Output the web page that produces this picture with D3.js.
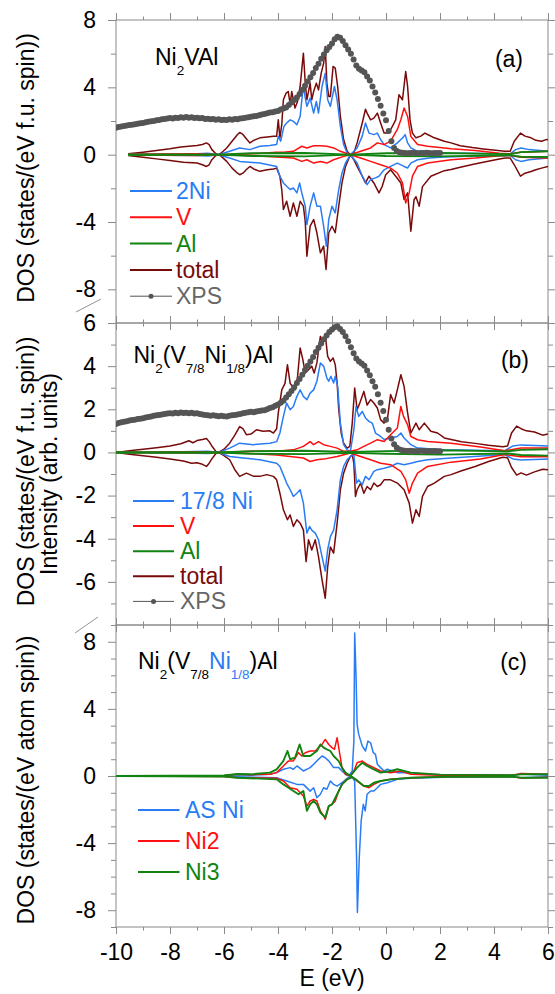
<!DOCTYPE html>
<html><head><meta charset="utf-8">
<script src="https://cdn.jsdelivr.net/npm/d3@7"></script>
<style>body{margin:0;background:#fff} svg{display:block} text{font-family:"Liberation Sans",Arial,sans-serif}</style>
</head><body><svg id="c" width="555" height="994"></svg>
<script>
// ---------------- DATA ----------------
const energyTicks = [-10,-8,-6,-4,-2,0,2,4,6];
const energyMinor = [-9,-7,-5,-3,-1,1,3,5];
// Panel (a) Ni2VAl
const totA_up = [[-9.55,0.05],[-9,0.15],[-8.5,0.25],[-8,0.35],[-7.6,0.45],[-7.3,0.5],[-7.0,0.55],[-6.8,0.6],[-6.65,0.7],[-6.55,0.6],[-6.45,0.3],[-6.3,0.05],[-6.2,0.0],[-6.1,0.1],[-5.9,0.4],[-5.7,0.8],[-5.5,1.2],[-5.42,1.32],[-5.3,1.2],[-5.15,0.9],[-5.04,0.7],[-4.9,0.85],[-4.67,1.0],[-4.4,1.05],[-4.17,1.1],[-4.05,1.1],[-3.99,2.07],[-3.93,1.0],[-3.86,1.8],[-3.8,3.26],[-3.7,3.66],[-3.62,3.75],[-3.55,3.0],[-3.49,3.75],[-3.37,2.77],[-3.28,3.15],[-3.18,4.05],[-3.06,6.03],[-2.99,4.25],[-2.93,3.26],[-2.81,4.25],[-2.75,3.26],[-2.68,3.75],[-2.58,4.25],[-2.5,3.85],[-2.4,4.84],[-2.31,5.43],[-2.25,6.42],[-2.19,4.25],[-2.12,3.46],[-2.06,3.46],[-1.96,5.24],[-1.88,5.14],[-1.79,4.05],[-1.69,2.27],[-1.57,0.9],[-1.44,0.2],[-1.32,0.0],[-1.19,0.1],[-1.07,0.7],[-0.88,1.88],[-0.76,2.7],[-0.7,2.47],[-0.57,2.07],[-0.45,2.17],[-0.32,2.47],[-0.2,1.88],[-0.07,1.28],[0.05,1.28],[0.17,1.48],[0.36,2.07],[0.48,3.56],[0.61,3.26],[0.73,4.94],[0.8,4.05],[0.89,2.07],[0.98,1.28],[1.11,1.0],[1.29,1.1],[1.44,1.28],[1.54,1.2],[1.79,1.0],[2.16,0.8],[2.41,0.7],[2.75,0.53],[3.2,0.42],[3.6,0.34],[4.06,0.26],[4.4,0.2],[4.6,0.2],[4.75,0.8],[4.98,1.28],[5.15,1.1],[5.37,1.0],[5.55,0.85],[5.76,0.8],[5.9,0.88],[6,0.9]];
const totA_dn = [[-9.55,-0.05],[-9,-0.15],[-8.5,-0.25],[-8,-0.35],[-7.5,-0.45],[-7.0,-0.5],[-6.8,-0.6],[-6.65,-0.7],[-6.55,-0.6],[-6.45,-0.3],[-6.3,-0.05],[-6.2,0],[-6.1,-0.1],[-5.9,-0.4],[-5.7,-0.8],[-5.5,-1.1],[-5.42,-1.19],[-5.3,-1.1],[-5.15,-0.85],[-5.04,-0.7],[-4.9,-0.85],[-4.67,-0.99],[-4.4,-0.9],[-4.17,-0.85],[-4.05,-0.8],[-3.93,-1.28],[-3.86,-2.1],[-3.8,-3.26],[-3.68,-2.77],[-3.55,-3.66],[-3.43,-2.87],[-3.3,-3.66],[-3.18,-2.77],[-3.06,-3.06],[-2.99,-4.0],[-2.93,-6.03],[-2.81,-4.25],[-2.68,-3.85],[-2.56,-4.64],[-2.43,-5.83],[-2.31,-5.43],[-2.22,-6.82],[-2.12,-4.64],[-2.0,-4.25],[-1.88,-4.64],[-1.75,-3.06],[-1.63,-1.68],[-1.5,-0.7],[-1.32,0],[-1.19,-0.3],[-1.07,-0.7],[-0.88,-1.28],[-0.76,-1.68],[-0.63,-1.28],[-0.45,-1.68],[-0.26,-2.27],[-0.14,-1.88],[-0.01,-1.19],[0.17,-0.9],[0.36,-1.28],[0.55,-1.68],[0.67,-2.67],[0.8,-2.27],[0.92,-4.55],[1.04,-2.67],[1.11,-2.5],[1.23,-3.06],[1.35,-1.9],[1.66,-1.28],[2.16,-0.95],[2.41,-0.88],[2.75,-0.75],[3.2,-0.58],[3.6,-0.45],[4.06,-0.3],[4.4,-0.2],[4.6,-0.2],[4.75,-0.6],[4.98,-1.28],[5.15,-1.1],[5.37,-1.0],[5.55,-0.9],[5.76,-0.8],[6,-0.7]];
const niA_up = [[-9.55,0.02],[-8,0.03],[-7,0.05],[-6.6,0.08],[-6.2,0],[-5.79,0.2],[-5.42,0.4],[-5.04,0.3],[-4.67,0.5],[-4.3,0.55],[-4.05,0.6],[-3.99,1.1],[-3.9,0.8],[-3.78,1.68],[-3.68,1.88],[-3.55,2.07],[-3.43,1.98],[-3.3,1.78],[-3.18,2.27],[-3.06,4.15],[-2.99,3.36],[-2.93,2.87],[-2.81,3.36],[-2.68,2.47],[-2.58,3.16],[-2.5,2.47],[-2.37,4.05],[-2.25,4.84],[-2.16,3.26],[-2.06,2.87],[-1.91,4.05],[-1.81,3.26],[-1.69,1.68],[-1.57,0.6],[-1.44,0.1],[-1.32,0],[-1.07,0.4],[-0.88,1.1],[-0.76,1.88],[-0.63,1.28],[-0.45,1.19],[-0.32,1.28],[-0.2,0.9],[-0.07,0.6],[0.17,0.4],[0.42,0.7],[0.61,0.99],[0.71,1.19],[0.8,0.7],[0.92,0.4],[1.17,0.2],[1.6,0.15],[2.16,0.1],[3,0.08],[4,0.05],[4.6,0.05],[4.8,0.3],[5.0,0.4],[5.3,0.3],[6,0.2]];
const niA_dn = [[-9.55,-0.02],[-7,-0.05],[-6.6,-0.08],[-6.2,0],[-5.79,-0.2],[-5.42,-0.4],[-4.67,-0.5],[-4.05,-0.7],[-3.93,-1.28],[-3.8,-1.68],[-3.68,-1.88],[-3.55,-2.07],[-3.43,-1.98],[-3.3,-2.27],[-3.2,-1.68],[-3.12,-2.27],[-2.99,-3.06],[-2.93,-4.15],[-2.81,-3.06],[-2.68,-2.27],[-2.56,-3.06],[-2.43,-3.06],[-2.31,-4.25],[-2.21,-5.43],[-2.12,-3.85],[-2.0,-3.06],[-1.88,-3.46],[-1.75,-2.07],[-1.63,-1.09],[-1.5,-0.5],[-1.32,0],[-1.07,-0.5],[-0.88,-1.28],[-0.7,-1.78],[-0.57,-1.48],[-0.39,-1.38],[-0.26,-1.28],[-0.07,-0.9],[0.17,-0.7],[0.42,-0.5],[0.67,-0.7],[0.8,-0.79],[0.92,-0.5],[1.17,-0.3],[1.6,-0.2],[2.16,-0.14],[3,-0.1],[4,-0.06],[4.6,-0.05],[4.8,-0.3],[5.0,-0.4],[5.3,-0.3],[6,-0.2]];
const vA_up = [[-9.55,0.02],[-7,0.05],[-6.2,0],[-5,0.05],[-4.05,0.14],[-3.8,0.14],[-3.43,0.2],[-3.12,0.5],[-2.93,0.4],[-2.68,0.53],[-2.43,0.53],[-2.19,0.5],[-1.94,0.4],[-1.69,0.2],[-1.32,0],[-0.94,0.2],[-0.57,0.4],[-0.32,0.7],[-0.07,0.6],[0.17,0.8],[0.42,1.5],[0.55,2.07],[0.67,2.77],[0.8,2.27],[0.92,1.08],[1.17,0.6],[1.54,0.5],[2.16,0.4],[2.41,0.35],[3.3,0.25],[4.2,0.08],[4.6,0.05],[5.0,0.15],[6,0.2]];
const vA_dn = [[-9.55,-0.02],[-7,-0.05],[-6.2,0],[-5,-0.05],[-4.05,-0.14],[-3.43,-0.2],[-3.12,-0.4],[-2.93,-0.3],[-2.68,-0.5],[-2.43,-0.4],[-2.19,-0.5],[-1.94,-0.3],[-1.57,-0.1],[-1.32,0],[-0.94,-0.2],[-0.57,-0.4],[-0.2,-0.6],[0.17,-0.8],[0.42,-1.09],[0.61,-1.68],[0.73,-2.87],[0.86,-2.27],[0.98,-1.28],[1.17,-0.7],[1.54,-0.5],[2.41,-0.3],[3.3,-0.2],[4.2,-0.06],[4.6,-0.05],[5.0,-0.15],[6,-0.2]];
const alA_up = [[-9.55,0.02],[-6.2,0],[-5,0.08],[-3,0.1],[-1.32,0],[0,0.08],[2,0.1],[4.6,0.03],[5,0.15],[6,0.2]];
const alA_dn = [[-9.55,-0.02],[-6.2,0],[-5,-0.08],[-3,-0.1],[-1.32,0],[0,-0.08],[2,-0.1],[4.6,-0.03],[5,-0.12],[6,-0.14]];
const xpsA = [[-10,1.6],[-9.9,1.65],[-9.8,1.68],[-9.7,1.7],[-9.6,1.74],[-9.5,1.76],[-9.4,1.78],[-9.3,1.8],[-9.2,1.84],[-9.1,1.86],[-9,1.88],[-8.9,1.92],[-8.8,1.95],[-8.7,1.98],[-8.6,2.0],[-8.5,2.05],[-8.4,2.06],[-8.3,2.1],[-8.2,2.12],[-8.1,2.15],[-8,2.18],[-7.9,2.15],[-7.8,2.2],[-7.7,2.18],[-7.6,2.22],[-7.5,2.2],[-7.4,2.24],[-7.3,2.2],[-7.2,2.22],[-7.1,2.18],[-7,2.2],[-6.9,2.16],[-6.8,2.18],[-6.7,2.12],[-6.6,2.14],[-6.5,2.1],[-6.4,2.12],[-6.3,2.08],[-6.2,2.1],[-6.1,2.06],[-6,2.08],[-5.9,2.06],[-5.8,2.1],[-5.7,2.08],[-5.6,2.12],[-5.5,2.1],[-5.4,2.15],[-5.3,2.17],[-5.2,2.2],[-5.1,2.22],[-5,2.25],[-4.9,2.28],[-4.8,2.3],[-4.7,2.34],[-4.6,2.38],[-4.5,2.42],[-4.4,2.46],[-4.3,2.5],[-4.2,2.52],[-4.1,2.56],[-4,2.6],[-3.9,2.68],[-3.8,2.74],[-3.7,2.8],[-3.6,2.95],[-3.5,3.1],[-3.4,3.25],[-3.3,3.4],[-3.2,3.6],[-3.1,3.85],[-3,4.1],[-2.9,4.35],[-2.8,4.6],[-2.7,4.85],[-2.6,5.15],[-2.5,5.4],[-2.4,5.7],[-2.3,5.95],[-2.2,6.2],[-2.1,6.4],[-2,6.6],[-1.9,6.85],[-1.8,7.0],[-1.7,6.95],[-1.6,6.75],[-1.5,6.5],[-1.4,6.25],[-1.3,6.0],[-1.2,5.65],[-1.1,5.3],[-1,5.1],[-0.9,5.0],[-0.8,4.9],[-0.7,4.65],[-0.6,4.4],[-0.5,4.05],[-0.4,3.7],[-0.3,3.3],[-0.2,2.9],[-0.1,2.45],[0,2.05],[0.1,1.4],[0.2,0.8],[0.3,0.4],[0.4,0.22],[0.5,0.14],[0.6,0.12],[0.7,0.1],[0.8,0.09],[0.9,0.1],[1,0.11],[1.1,0.1],[1.2,0.09],[1.3,0.1],[1.4,0.1],[1.5,0.11],[1.6,0.1],[1.7,0.09],[1.8,0.1],[1.9,0.1],[2,0.1]];
// Panel (b) Ni2(V7/8Ni1/8)Al
const totB_up = [[-10,0],[-9.5,0.08],[-9,0.15],[-8.5,0.22],[-8,0.3],[-7.6,0.4],[-7.3,0.54],[-7.15,0.45],[-7.0,0.55],[-6.8,0.6],[-6.65,0.65],[-6.55,0.5],[-6.45,0.3],[-6.3,0.05],[-6.2,0],[-6.0,0.15],[-5.79,0.43],[-5.6,0.8],[-5.42,1.2],[-5.3,1.1],[-5.17,0.82],[-5.0,0.85],[-4.8,1.05],[-4.55,0.98],[-4.3,1.0],[-4.17,0.9],[-4.05,1.1],[-3.99,1.83],[-3.86,2.9],[-3.74,3.2],[-3.65,4.07],[-3.55,3.2],[-3.43,3.0],[-3.37,2.9],[-3.28,3.45],[-3.18,4.84],[-3.08,4.3],[-2.99,3.68],[-2.87,3.83],[-2.75,4.0],[-2.66,3.68],[-2.56,4.15],[-2.43,5.38],[-2.34,5.07],[-2.25,5.46],[-2.16,4.45],[-2.06,4.22],[-1.96,4.38],[-1.88,4.07],[-1.81,3.22],[-1.75,1.98],[-1.66,0.9],[-1.57,0.43],[-1.44,0.2],[-1.34,0.28],[-1.25,1.36],[-1.16,2.99],[-1.07,1.98],[-0.97,2.29],[-0.82,2.83],[-0.7,2.2],[-0.57,2.45],[-0.45,2.29],[-0.32,2.06],[-0.2,1.52],[-0.07,1.36],[0.05,1.52],[0.17,2.68],[0.3,2.29],[0.42,2.9],[0.55,3.6],[0.67,3.06],[0.8,1.83],[0.92,0.9],[1.11,1.36],[1.23,1.05],[1.42,1.36],[1.66,0.98],[1.91,0.9],[2.16,0.67],[2.41,0.6],[2.8,0.5],[3.3,0.42],[3.8,0.33],[4.32,0.26],[4.5,0.3],[4.65,0.9],[4.84,1.22],[5.0,1.1],[5.2,1.0],[5.5,0.95],[5.8,0.8],[6,0.85]];
const totB_dn = [[-10,0],[-9.5,-0.08],[-9,-0.15],[-8.5,-0.22],[-8,-0.3],[-7.5,-0.4],[-7.2,-0.5],[-7.0,-0.48],[-6.8,-0.55],[-6.65,-0.65],[-6.55,-0.5],[-6.45,-0.3],[-6.3,-0.05],[-6.2,0],[-6.0,-0.15],[-5.79,-0.34],[-5.6,-0.8],[-5.42,-1.11],[-5.17,-0.96],[-4.92,-1.1],[-4.67,-1.11],[-4.42,-1.03],[-4.17,-1.11],[-4.05,-1.27],[-3.93,-1.89],[-3.8,-2.66],[-3.65,-3.12],[-3.55,-2.9],[-3.43,-3.43],[-3.3,-3.12],[-3.18,-3.28],[-3.06,-3.59],[-2.96,-5.06],[-2.87,-4.05],[-2.75,-4.52],[-2.62,-4.05],[-2.5,-4.83],[-2.37,-5.9],[-2.25,-6.76],[-2.16,-5.3],[-2.06,-4.38],[-1.94,-4.67],[-1.81,-3.28],[-1.69,-1.73],[-1.57,-0.96],[-1.44,-0.5],[-1.32,-0.19],[-1.25,-0.11],[-1.19,-0.5],[-1.13,-2.04],[-1.07,-1.73],[-0.94,-1.42],[-0.82,-1.89],[-0.7,-1.58],[-0.57,-1.73],[-0.45,-1.42],[-0.32,-1.58],[-0.2,-1.5],[-0.07,-1.27],[0.17,-1.27],[0.42,-1.42],[0.67,-1.73],[0.86,-2.35],[0.98,-3.28],[1.11,-2.66],[1.23,-2.97],[1.35,-2.04],[1.54,-1.58],[1.79,-1.42],[2.16,-1.11],[2.41,-1.03],[2.8,-0.85],[3.3,-0.65],[3.8,-0.42],[4.32,-0.22],[4.5,-0.25],[4.65,-0.7],[4.84,-1.05],[5.0,-0.95],[5.2,-1.05],[5.5,-0.9],[5.8,-0.78],[6,-0.8]];
const niB_up = [[-10,0],[-8,0.02],[-6.6,0.05],[-6.2,0],[-5.79,0.2],[-5.42,0.43],[-4.92,0.36],[-4.3,0.43],[-4.05,0.5],[-3.93,0.9],[-3.8,1.67],[-3.68,2.29],[-3.55,1.98],[-3.43,2.13],[-3.3,2.6],[-3.18,2.9],[-3.06,2.6],[-2.93,2.44],[-2.81,2.75],[-2.68,2.9],[-2.56,3.3],[-2.43,4.15],[-2.31,4.0],[-2.19,3.45],[-2.12,3.3],[-2.04,3.53],[-1.94,3.22],[-1.88,3.53],[-1.79,3.06],[-1.69,1.36],[-1.57,0.36],[-1.44,0.12],[-1.32,0.05],[-1.19,1.05],[-1.11,2.13],[-1.01,1.67],[-0.88,1.9],[-0.76,1.6],[-0.63,1.44],[-0.51,1.36],[-0.39,0.9],[-0.2,0.74],[-0.07,0.6],[0.17,0.67],[0.42,0.74],[0.55,0.9],[0.67,0.67],[0.92,0.36],[1.17,0.2],[2.16,0.12],[4.4,0.08],[4.7,0.3],[5.0,0.35],[6,0.3]];
const niB_dn = [[-10,0],[-8,-0.02],[-6.6,-0.05],[-6.2,0],[-5.79,-0.19],[-5.29,-0.26],[-4.67,-0.34],[-4.05,-0.5],[-3.93,-0.65],[-3.8,-1.04],[-3.68,-1.42],[-3.55,-1.73],[-3.43,-2.04],[-3.3,-1.89],[-3.18,-1.73],[-3.06,-2.35],[-2.93,-3.74],[-2.83,-3.43],[-2.75,-3.6],[-2.62,-3.74],[-2.5,-4.05],[-2.37,-4.83],[-2.25,-5.5],[-2.16,-4.5],[-2.06,-3.9],[-1.94,-3.6],[-1.81,-2.66],[-1.69,-1.27],[-1.57,-0.65],[-1.44,-0.34],[-1.32,-0.19],[-1.19,-0.11],[-1.09,-1.42],[-1.01,-1.27],[-0.88,-1.5],[-0.76,-1.11],[-0.63,-1.27],[-0.45,-0.88],[-0.32,-0.8],[-0.07,-0.73],[0.17,-0.65],[0.42,-0.5],[0.67,-0.57],[0.92,-0.5],[1.17,-0.42],[1.54,-0.34],[2.41,-0.26],[4.4,-0.1],[4.7,-0.3],[5.0,-0.35],[6,-0.3]];
const vB_up = [[-10,0],[-7,0.03],[-6.2,0],[-5,0.05],[-4.05,0.05],[-3.43,0.12],[-3.06,0.28],[-2.81,0.5],[-2.68,0.36],[-2.5,0.5],[-2.31,0.36],[-2.06,0.28],[-1.81,0.2],[-1.57,0.05],[-1.32,0.05],[-1.07,0.12],[-0.82,0.28],[-0.57,0.43],[-0.32,0.59],[-0.07,0.51],[0.17,0.82],[0.42,1.13],[0.55,2.13],[0.65,1.67],[0.8,1.28],[0.92,0.74],[1.17,0.59],[1.54,0.51],[2.41,0.43],[3.5,0.25],[4.4,0.08],[5.0,0.2],[6,0.2]];
const vB_dn = [[-10,0],[-7,-0.03],[-6.2,0],[-5,-0.05],[-4.05,-0.12],[-3.06,-0.26],[-2.81,-0.42],[-2.56,-0.34],[-2.31,-0.31],[-1.81,-0.19],[-1.32,-0.03],[-0.94,-0.19],[-0.57,-0.34],[-0.2,-0.5],[0.17,-0.57],[0.55,-0.88],[0.73,-1.27],[0.86,-1.89],[0.98,-1.42],[1.17,-0.96],[1.54,-0.65],[2.41,-0.45],[3.5,-0.3],[4.4,-0.1],[5.0,-0.2],[6,-0.2]];
const alB_up = [[-10,0],[-6.2,0],[-5,0.06],[-3,0.08],[-1.3,0.02],[0,0.06],[2,0.1],[4.5,0.05],[5,0.12],[6,0.15]];
const alB_dn = [[-10,0],[-6.2,0],[-5,-0.06],[-3,-0.08],[-1.3,-0.02],[0,-0.06],[2,-0.1],[4.5,-0.05],[5,-0.12],[6,-0.15]];
const xpsB = [[-10,1.32],[-9.9,1.36],[-9.8,1.4],[-9.7,1.42],[-9.6,1.45],[-9.5,1.48],[-9.4,1.5],[-9.3,1.52],[-9.2,1.55],[-9.1,1.56],[-9,1.58],[-8.9,1.62],[-8.8,1.64],[-8.7,1.66],[-8.6,1.7],[-8.5,1.72],[-8.4,1.74],[-8.3,1.76],[-8.2,1.78],[-8.1,1.8],[-8,1.82],[-7.9,1.8],[-7.8,1.84],[-7.7,1.82],[-7.6,1.85],[-7.5,1.83],[-7.4,1.84],[-7.3,1.82],[-7.2,1.84],[-7.1,1.8],[-7,1.82],[-6.9,1.78],[-6.8,1.76],[-6.7,1.74],[-6.6,1.72],[-6.5,1.7],[-6.4,1.72],[-6.3,1.7],[-6.2,1.68],[-6.1,1.7],[-6,1.68],[-5.9,1.67],[-5.8,1.7],[-5.7,1.72],[-5.6,1.74],[-5.5,1.76],[-5.4,1.78],[-5.3,1.82],[-5.2,1.84],[-5.1,1.86],[-5,1.88],[-4.9,1.86],[-4.8,1.9],[-4.7,1.92],[-4.6,1.94],[-4.5,1.96],[-4.4,2.0],[-4.3,2.06],[-4.2,2.1],[-4.1,2.16],[-4,2.22],[-3.9,2.3],[-3.8,2.4],[-3.7,2.55],[-3.6,2.7],[-3.5,2.85],[-3.4,3.02],[-3.3,3.22],[-3.2,3.4],[-3.1,3.6],[-3,3.82],[-2.9,4.02],[-2.8,4.22],[-2.7,4.42],[-2.6,4.65],[-2.5,4.85],[-2.4,5.05],[-2.3,5.25],[-2.2,5.42],[-2.1,5.58],[-2,5.7],[-1.9,5.8],[-1.8,5.85],[-1.7,5.72],[-1.6,5.58],[-1.5,5.38],[-1.4,5.15],[-1.3,4.88],[-1.2,4.6],[-1.1,4.35],[-1,4.22],[-0.9,4.12],[-0.8,4.02],[-0.7,3.8],[-0.6,3.58],[-0.5,3.3],[-0.4,3.05],[-0.3,2.7],[-0.2,2.3],[-0.1,1.92],[0,1.52],[0.1,1.05],[0.2,0.65],[0.3,0.38],[0.4,0.22],[0.5,0.14],[0.6,0.1],[0.7,0.08],[0.8,0.07],[0.9,0.08],[1,0.07],[1.1,0.06],[1.2,0.07],[1.3,0.08],[1.4,0.07],[1.5,0.06],[1.6,0.07],[1.7,0.06],[1.8,0.07],[1.9,0.06],[2,0.06]];
// Panel (c) site-resolved Ni
const asNi_up = [[-10,0],[-7,0.01],[-6,0.02],[-5.5,0.08],[-5,0.05],[-4.3,0.1],[-4.05,0.2],[-3.8,0.4],[-3.55,0.5],[-3.43,0.4],[-3.3,0.6],[-3.06,0.3],[-2.81,0.5],[-2.68,0.7],[-2.56,0.9],[-2.37,1.19],[-2.25,1.09],[-2.12,0.9],[-1.94,0.5],[-1.75,0.5],[-1.63,0.3],[-1.5,0.1],[-1.38,0],[-1.25,0.3],[-1.19,2.08],[-1.16,8.53],[-1.11,6.0],[-1.07,3.08],[-1.01,2.48],[-0.88,1.79],[-0.76,1.49],[-0.67,2.08],[-0.57,1.98],[-0.47,1.39],[-0.39,1.29],[-0.32,0.7],[-0.2,0.5],[-0.07,0.3],[0.05,0.4],[0.24,0.3],[0.42,0.2],[0.92,0.2],[1.42,0.1],[2.41,0.06],[4.7,0.05],[5.0,0.12],[6,0.05]];
const asNi_dn = [[-10,0],[-6,-0.02],[-5.5,-0.05],[-4.05,-0.1],[-3.68,-0.3],[-3.3,-0.5],[-3.06,-0.5],[-2.81,-0.9],[-2.68,-0.7],[-2.56,-1.29],[-2.43,-1.09],[-2.31,-0.7],[-2.19,-0.79],[-2.06,-0.3],[-1.94,-0.5],[-1.81,-0.6],[-1.63,-0.4],[-1.44,-0.14],[-1.25,-0.06],[-1.16,-0.3],[-1.09,-4.86],[-1.06,-8.13],[-0.99,-4.86],[-0.92,-2.68],[-0.84,-1.69],[-0.77,-2.08],[-0.7,-1.09],[-0.57,-0.89],[-0.45,-0.89],[-0.32,-0.7],[-0.2,-0.5],[0.05,-0.4],[0.42,-0.2],[0.92,-0.14],[2.41,-0.06],[4.7,-0.05],[5.0,-0.1],[6,-0.05]];
const ni2_up = [[-10,0],[-7,0.01],[-6,0.03],[-5.5,0.1],[-5,0.08],[-4.3,0.1],[-4.05,0.2],[-3.8,0.6],[-3.61,0.9],[-3.43,0.9],[-3.24,1.39],[-3.12,1.19],[-2.99,1.39],[-2.81,1.49],[-2.62,1.49],[-2.5,1.69],[-2.37,1.88],[-2.25,2.18],[-2.12,1.88],[-2.0,1.69],[-1.91,1.59],[-1.81,2.28],[-1.71,1.29],[-1.63,0.5],[-1.5,0.1],[-1.32,0],[-1.19,0.3],[-1.07,0.79],[-0.88,0.89],[-0.7,0.69],[-0.45,0.5],[-0.2,0.3],[0.17,0.2],[0.55,0.3],[0.92,0.1],[2,0.05],[4.7,0.05],[5.0,0.15],[6,0.1]];
const ni2_dn = [[-10,0],[-6,-0.03],[-5.5,-0.1],[-4.05,-0.14],[-3.8,-0.3],[-3.55,-0.7],[-3.3,-0.79],[-3.06,-1.19],[-2.93,-1.79],[-2.81,-1.49],[-2.68,-1.39],[-2.56,-1.49],[-2.43,-2.08],[-2.31,-2.38],[-2.25,-2.58],[-2.12,-1.79],[-2.0,-1.69],[-1.88,-1.49],[-1.75,-0.89],[-1.63,-0.5],[-1.44,-0.2],[-1.25,-0.06],[-1.07,-0.3],[-0.82,-0.6],[-0.63,-0.7],[-0.45,-0.5],[-0.2,-0.3],[0.17,-0.2],[0.92,-0.1],[2,-0.05],[4.7,-0.05],[5.0,-0.12],[6,-0.08]];
const ni3_up = [[-10,0],[-6,0.03],[-5.5,0.12],[-5,0.1],[-4.3,0.2],[-4.05,0.4],[-3.8,0.9],[-3.65,1.49],[-3.55,1.0],[-3.37,1.09],[-3.2,1.88],[-3.06,1.19],[-2.81,1.19],[-2.56,1.49],[-2.43,1.88],[-2.31,1.69],[-2.19,1.59],[-2.06,1.49],[-1.94,1.19],[-1.75,0.89],[-1.63,0.5],[-1.5,0.2],[-1.32,0],[-1.07,0.5],[-0.88,0.79],[-0.7,0.6],[-0.45,0.4],[-0.2,0.2],[0.17,0.3],[0.42,0.4],[0.67,0.3],[0.92,0.2],[2,0.08],[4.7,0.05],[5.0,0.1],[6,0.1]];
const ni3_dn = [[-10,0],[-6,-0.04],[-5.5,-0.1],[-4.05,-0.2],[-3.8,-0.5],[-3.61,-0.7],[-3.43,-0.89],[-3.24,-1.09],[-3.06,-0.89],[-2.93,-2.08],[-2.81,-1.69],[-2.68,-1.49],[-2.56,-1.69],[-2.43,-2.18],[-2.25,-2.48],[-2.12,-1.79],[-2.0,-1.69],[-1.81,-1.09],[-1.63,-0.5],[-1.44,-0.2],[-1.25,-0.06],[-1.07,-0.26],[-0.82,-0.6],[-0.63,-0.6],[-0.45,-0.4],[-0.2,-0.3],[0.17,-0.2],[0.92,-0.1],[2,-0.05],[4.7,-0.05],[5.0,-0.1],[6,-0.1]];
const legendA = ["2Ni","V","Al","total","XPS"];
const legendB = ["17/8 Ni","V","Al","total","XPS"];
const legendC = ["AS Ni","Ni2","Ni3"];

// ---------------- DRAWING ----------------
const COL = {ni:"#2a7cf5", v:"#ff1010", al:"#118311", tot:"#780a0a", xps:"#555555", xpsText:"#666666"};
const FRAME = "#8a8a8a";
const FONT = "'Liberation Sans',Arial,sans-serif";
const fmt = d => String(d);   // plain hyphen-minus like the original
const svg = d3.select("#c");
const x = d3.scaleLinear().domain([-10,6]).range([116,548]);

const panels = [
  {id:"a", top:20, bottom:323, domain:[-10,8], major:[-8,-4,0,4,8], minor:[-10,-6,-2,2,6],
   series:[[totA_up,"tot"],[totA_dn,"tot"],[niA_up,"ni"],[niA_dn,"ni"],[vA_up,"v"],[vA_dn,"v"],[alA_up,"al"],[alA_dn,"al"]], xps:xpsA,
   legend:legendA, legCols:["ni","v","al","tot","xps"], legX:[130,172,176], legY0:191, legDy:26.3},
  {id:"b", top:323, bottom:625, domain:[-8,6], major:[-6,-4,-2,0,2,4,6], minor:[-7,-5,-3,-1,1,3,5,-8],
   series:[[totB_up,"tot"],[totB_dn,"tot"],[niB_up,"ni"],[niB_dn,"ni"],[vB_up,"v"],[vB_dn,"v"],[alB_up,"al"],[alB_dn,"al"]], xps:xpsB,
   legend:legendB, legCols:["ni","v","al","tot","xps"], legX:[133,174,180], legY0:501, legDy:25.1},
  {id:"c", top:625, bottom:927, domain:[-9,9], major:[-8,-4,0,4,8], minor:[-9,-7,-6,-5,-3,-2,-1,1,2,3,5,6,7,9],
   series:[[asNi_up,"ni"],[asNi_dn,"ni"],[ni2_up,"v"],[ni2_dn,"v"],[ni3_up,"al"],[ni3_dn,"al"]], xps:null,
   legend:legendC, legCols:["ni","v","al"], legX:[138,179.5,185], legY0:810, legDy:31}
];

panels.forEach((p,i)=>{
  const y = d3.scaleLinear().domain(p.domain).range([p.bottom,p.top]);
  const g = svg.append("g");
  const clipId = "clip"+p.id;
  svg.append("clipPath").attr("id",clipId).append("rect")
    .attr("x",x(-10)).attr("y",p.top).attr("width",x(6)-x(-10)).attr("height",p.bottom-p.top);

  const styleAxis = sel => { sel.select(".domain").remove(); sel.selectAll("line").attr("stroke",FRAME);
    sel.attr("font-family",null).attr("font-size",null);
    sel.selectAll("text").attr("fill","#000").style("font-size","23px").style("font-family",FONT); };
  g.append("g").attr("transform",`translate(${x(-10)},0)`)
    .call(d3.axisLeft(y).tickValues(p.major).tickSize(8).tickPadding(12).tickFormat(fmt)).call(styleAxis);
  g.append("g").attr("transform",`translate(${x(-10)},0)`)
    .call(d3.axisLeft(y).tickValues(p.minor).tickSize(5).tickFormat("")).call(styleAxis);
  g.append("g").attr("transform",`translate(${x(6)},0)`)
    .call(d3.axisRight(y).tickValues(p.major).tickSize(8).tickFormat("")).call(styleAxis);
  g.append("g").attr("transform",`translate(${x(6)},0)`)
    .call(d3.axisRight(y).tickValues(p.minor).tickSize(5).tickFormat("")).call(styleAxis);
  g.append("g").attr("transform",`translate(0,${p.top})`)
    .call(d3.axisTop(x).tickValues(energyTicks).tickSize(7).tickFormat("")).call(styleAxis);
  g.append("g").attr("transform",`translate(0,${p.top})`)
    .call(d3.axisTop(x).tickValues(energyMinor).tickSize(3.5).tickFormat("")).call(styleAxis);
  const last = i===panels.length-1;
  g.append("g").attr("transform",`translate(0,${p.bottom})`)
    .call(d3.axisBottom(x).tickValues(energyTicks).tickSize(7).tickPadding(10).tickFormat(last?fmt:"")).call(styleAxis);
  g.append("g").attr("transform",`translate(0,${p.bottom})`)
    .call(d3.axisBottom(x).tickValues(energyMinor).tickSize(3.5).tickFormat("")).call(styleAxis);

  g.append("rect").attr("x",x(-10)).attr("y",p.top).attr("width",x(6)-x(-10)).attr("height",p.bottom-p.top)
    .attr("fill","none").attr("stroke",FRAME).attr("stroke-width",1);

  const line = d3.line().x(d=>x(d[0])).y(d=>y(d[1]));
  const plot = g.append("g").attr("clip-path",`url(#${clipId})`);
  p.series.forEach(([data,key])=>{
    plot.append("path").datum(data).attr("d",line).attr("fill","none")
      .attr("stroke",COL[key]).attr("stroke-width", key==="al"?1.9:1.5).attr("stroke-linejoin","round");
  });
  if(p.xps){
    plot.append("g").selectAll("circle").data(p.xps).join("circle")
      .attr("cx",d=>x(d[0])).attr("cy",d=>y(d[1])).attr("r",3).attr("fill",COL.xps);
  }

  const lg = g.append("g");
  p.legend.forEach((name,k)=>{
    const ly = p.legY0 + k*p.legDy;
    const key = p.legCols[k];
    const isX = key==="xps";
    lg.append("line").attr("x1",p.legX[0]).attr("x2",p.legX[1]).attr("y1",ly).attr("y2",ly)
      .attr("stroke",COL[key]).attr("stroke-width",isX?1:2);
    if(isX) lg.append("circle").attr("cx",(p.legX[0]+p.legX[1])/2).attr("cy",ly).attr("r",2.5).attr("fill",COL.xps);
    lg.append("text").attr("x",p.legX[2]).attr("y",ly+8).style("font-size","23px")
      .attr("fill",isX?COL.xpsText:COL[key]).text(name);
  });
});

function title(xp, yp, parts){
  const t = svg.append("text").attr("x",xp).attr("y",yp).style("font-size","23px").attr("fill","#000");
  let sub=false;
  parts.forEach(([txt,isSub,col])=>{
    const ts = t.append("tspan").text(txt).attr("fill",col||"#000");
    if(isSub){ ts.style("font-size","13.5px"); if(!sub) ts.attr("dy",10); sub=true; }
    else { if(sub) ts.attr("dy",-10); sub=false; }
  });
}
title(155,65,[["Ni"],["2",true],["VAl"]]);
title(133.5,363,[["Ni"],["2",true],["(V"],["7/8",true],["Ni"],["1/8",true],[")Al"]]);
title(138,669,[["Ni"],["2",true],["(V"],["7/8",true],["Ni",false,COL.ni],["1/8",true,COL.ni],[")Al"]]);
[["(a)",523,67],["(b)",529,368],["(c)",527,670]].forEach(([s,xp,yp])=>
  svg.append("text").attr("x",xp).attr("y",yp).attr("text-anchor","end").style("font-size","23px").text(s));

function ylab(xp, yc, s){
  svg.append("text").attr("transform",`translate(${xp},${yc}) rotate(-90)`).attr("text-anchor","middle")
    .style("font-size","23px").text(s);
}
ylab(33.5,168,"DOS (states/(eV f.u. spin))");
ylab(33.5,471.5,"DOS (states/(eV f.u. spin))");
ylab(57,474,"Intensity (arb. units)");
ylab(33.5,780,"DOS (states/(eV atom spin))");
svg.append("text").attr("x",332).attr("y",986).attr("text-anchor","middle").style("font-size","23px").text("E (eV)");

[[76,312,101,299],[75,633,98,617]].forEach(([a,b,c,d])=>
  svg.append("line").attr("x1",a).attr("y1",b).attr("x2",c).attr("y2",d).attr("stroke","#777").attr("stroke-width",0.8));
</script></body></html>
